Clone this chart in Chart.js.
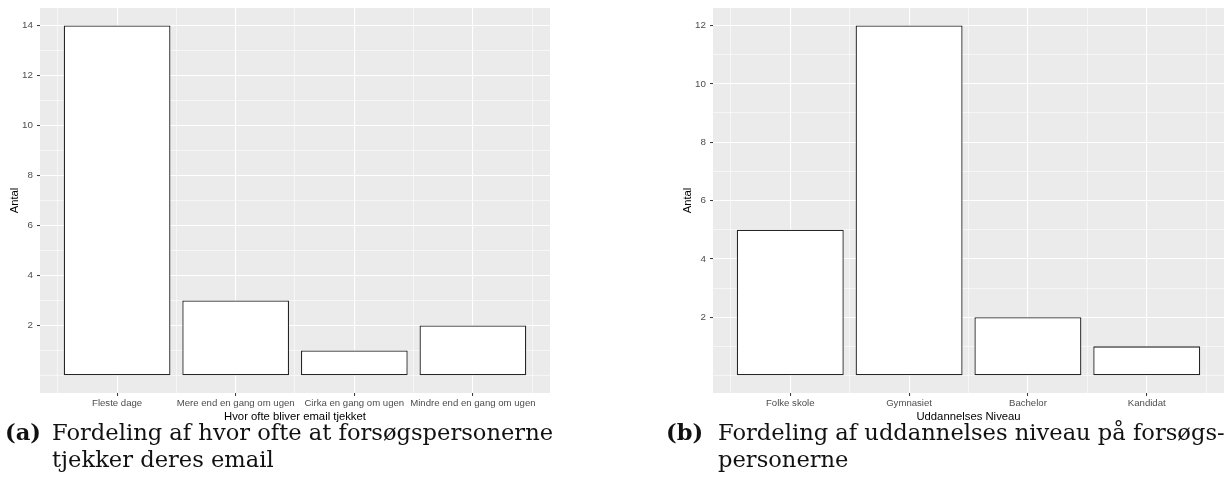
<!DOCTYPE html>
<html>
<head>
<meta charset="utf-8">
<script src="https://cdn.jsdelivr.net/npm/chart.js@4.4.1/dist/chart.umd.min.js"></script>
<style>
  html, body { margin: 0; padding: 0; background: #ffffff; }
  #page { position: relative; width: 1227px; height: 492px; overflow: hidden; background: #ffffff; }
  .plot { position: absolute; top: 0; }
  .cap { position: absolute; font-family: "DejaVu Serif", serif; font-size: 22.6px; line-height: 27px; color: #111; white-space: nowrap; }
  .cap b { position: absolute; left: 0; top: 0; }
  .cap .txt { position: absolute; top: 0; }
</style>
</head>
<body>
<div id="page">
  <canvas id="emailChart" class="plot" style="left:0px" width="560" height="425"></canvas>
  <canvas id="eduChart" class="plot" style="left:670px" width="557" height="425"></canvas>
  <div class="cap" style="left:5px; top:419px;">
    <b>(a)</b><span class="txt" style="left:47px">Fordeling af hvor ofte at forsøgspersonerne<br>tjekker deres email</span>
  </div>
  <div class="cap" style="left:666px; top:419px;">
    <b>(b)</b><span class="txt" style="left:52px">Fordeling af uddannelses niveau på forsøgs-<br>personerne</span>
  </div>
</div>
<script>
// Email-check frequency
const emailCategories = ['Fleste dage', 'Mere end en gang om ugen', 'Cirka en gang om ugen', 'Mindre end en gang om ugen'];
const emailCounts = [14, 3, 1, 2];
const emailYTicks = [2, 4, 6, 8, 10, 12, 14];

// Education level
const eduCategories = ['Folke skole', 'Gymnasiet', 'Bachelor', 'Kandidat'];
const eduCounts = [5, 12, 2, 1];
const eduYTicks = [2, 4, 6, 8, 10, 12];

Chart.defaults.font.family = '"Liberation Sans", Arial, sans-serif';
Chart.defaults.animation = false;

// grey ggplot-style panel behind the grid
const panelBackground = {
  id: 'panelBackground',
  beforeDraw(chart) {
    const { ctx, chartArea: a } = chart;
    ctx.save();
    ctx.fillStyle = '#EBEBEB';
    ctx.fillRect(a.left, a.top, a.right - a.left, a.bottom - a.top);
    ctx.restore();
  }
};

function buildBarChart(canvasId, categories, counts, yTicks, xTitle, cfg) {
  const yTop = yTicks[yTicks.length - 1];
  const pad = yTop * 0.05;
  const yGrid = [];
  for (let v = 0; v <= yTop; v++) yGrid.push(v);
  const xGrid = [];
  for (let v = 0.5; v <= categories.length + 0.5; v += 0.5) xGrid.push(v);
  const isXMajor = v => Number.isInteger(v);
  const isYMajor = v => yTicks.includes(v);

  return new Chart(document.getElementById(canvasId), {
    type: 'bar',
    data: {
      datasets: [{
        data: counts.map((c, i) => ({ x: i + 1, y: c })),
        backgroundColor: '#FFFFFF',
        borderColor: '#262626',
        borderWidth: 1.3,
        borderSkipped: false,
        // x ticks sit every half category, so the bar ruler step is half a
        // category: 1.8 of it gives bars 0.9 of a category wide
        categoryPercentage: 1.8,
        barPercentage: 1
      }]
    },
    options: {
      responsive: false,
      layout: { padding: { left: 0, top: 8, right: cfg.rightPad, bottom: 0 } },
      plugins: { legend: { display: false }, tooltip: { enabled: false } },
      scales: {
        x: {
          type: 'linear',
          min: 0.35,
          max: categories.length + 0.65,
          offset: false,
          border: { display: false },
          afterBuildTicks: s => { s.ticks = xGrid.map(v => ({ value: v })); },
          afterFit: s => { s.height = 32; s.paddingLeft = 0; s.paddingRight = 0; },
          grid: {
            offset: false,
            color: '#FFFFFF',
            lineWidth: c => isXMajor(c.tick.value) ? 1.1 : 0.55,
            tickLength: 3,
            tickWidth: 1,
            tickColor: c => isXMajor(c.tick.value) ? '#333333' : 'rgba(0,0,0,0)'
          },
          ticks: {
            autoSkip: false,
            maxRotation: 0,
            minRotation: 0,
            padding: 2,
            color: '#4D4D4D',
            font: { size: 9.6 },
            callback: v => isXMajor(v) ? categories[v - 1] : ''
          },
          title: {
            display: true,
            text: xTitle,
            color: '#000000',
            font: { size: 11.3 },
            padding: { top: 0, bottom: 1 }
          }
        },
        y: {
          type: 'linear',
          min: -pad,
          max: yTop + pad,
          border: { display: false },
          afterBuildTicks: s => { s.ticks = yGrid.map(v => ({ value: v })); },
          afterFit: s => { s.width = cfg.yAxisWidth; s.paddingTop = 0; s.paddingBottom = 0; },
          grid: {
            color: '#FFFFFF',
            lineWidth: c => isYMajor(c.tick.value) ? 1.1 : 0.55,
            tickLength: 3,
            tickWidth: 1,
            tickColor: c => isYMajor(c.tick.value) ? '#333333' : 'rgba(0,0,0,0)'
          },
          ticks: {
            padding: 4,
            color: '#4D4D4D',
            font: { size: 9.8 },
            callback: v => isYMajor(v) ? String(v) : ''
          },
          title: {
            display: true,
            text: 'Antal',
            color: '#000000',
            font: { size: 11.3 },
            padding: { top: cfg.yTitlePad, bottom: 0 }
          }
        }
      }
    },
    plugins: [panelBackground]
  });
}

buildBarChart('emailChart', emailCategories, emailCounts, emailYTicks,
  'Hvor ofte bliver email tjekket', { rightPad: 10, yAxisWidth: 40, yTitlePad: 8 });
buildBarChart('eduChart', eduCategories, eduCounts, eduYTicks,
  'Uddannelses Niveau', { rightPad: 3, yAxisWidth: 43, yTitlePad: 11 });
</script>
</body>
</html>
